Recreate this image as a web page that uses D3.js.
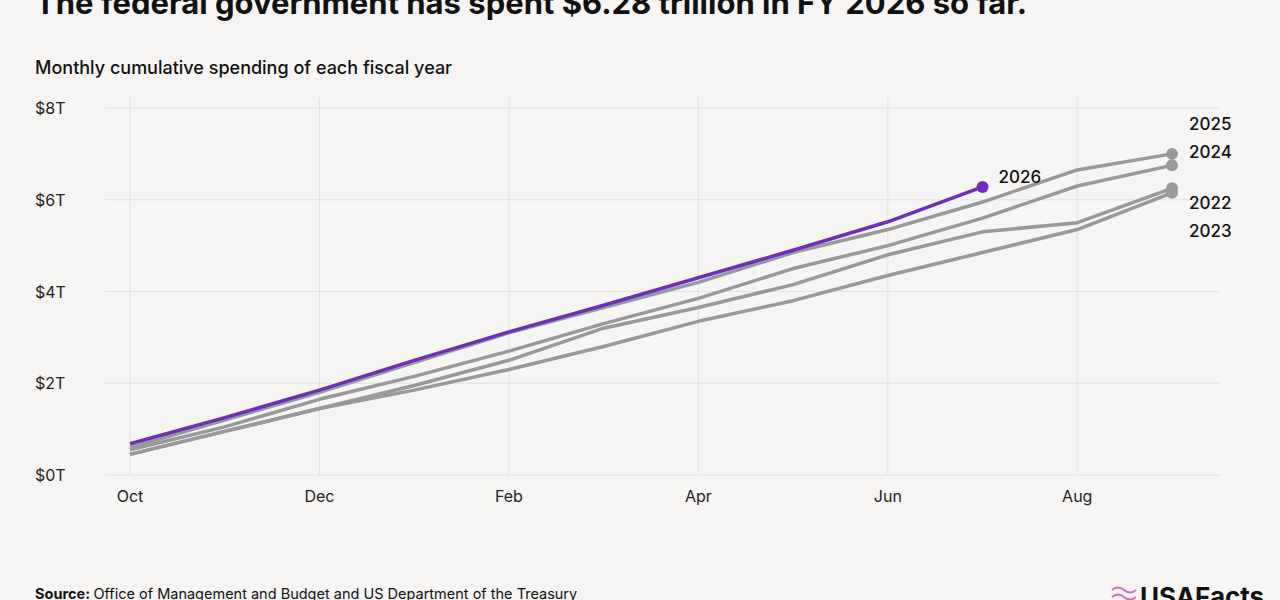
<!DOCTYPE html>
<html>
<head>
<meta charset="UTF-8">
<script src="https://d3js.org/d3.v7.min.js"></script>
<style>
  body { margin:0; background:#f6f5f3; }
  text { font-family: Inter, "Noto Sans", sans-serif; }
</style>
</head>
<body>
<svg id="chart" width="1280" height="600"></svg>
<script>
// months of the fiscal year
var months = ["Oct","Nov","Dec","Jan","Feb","Mar","Apr","May","Jun","Jul","Aug","Sep"];
var tickMonths = ["Oct","Dec","Feb","Apr","Jun","Aug"];
var yTicks = [0, 2, 4, 6, 8];

// cumulative spending, trillions
var fy2022 = [0.45,0.95,1.45,1.95,2.5,3.2,3.65,4.15,4.8,5.3,5.5,6.25];
var fy2023 = [0.45,0.95,1.45,1.85,2.3,2.8,3.35,3.8,4.35,4.85,5.35,6.15];
var fy2024 = [0.55,1.05,1.65,2.15,2.7,3.3,3.85,4.5,5.0,5.6,6.3,6.75];
var fy2025 = [0.6,1.2,1.8,2.45,3.1,3.65,4.2,4.85,5.35,5.95,6.65,7.0];
var fy2026 = [0.68,1.25,1.85,2.5,3.12,3.7,4.3,4.9,5.52,6.28];

var svg = d3.select("#chart");

var x = d3.scalePoint().domain(months).range([130, 1172]);
var y = d3.scaleLinear().domain([0, 8]).range([475, 108]);

// titles
svg.append("text").attr("x", 35).attr("y", 14)
  .style("font-size", "31px").style("font-weight", 700).attr("fill", "#111")
  .text("The federal government has spent $6.28 trillion in FY 2026 so far.");
svg.append("text").attr("x", 35).attr("y", 74)
  .style("font-size", "18px").style("font-weight", 500).attr("fill", "#111")
  .text("Monthly cumulative spending of each fiscal year");

// grid
svg.append("g").selectAll("line").data(yTicks).enter().append("line")
  .attr("x1", 105).attr("x2", 1220)
  .attr("y1", function(d){ return y(d); }).attr("y2", function(d){ return y(d); })
  .attr("stroke", "#e4e2df").attr("stroke-width", 1);
svg.append("g").selectAll("line").data(tickMonths).enter().append("line")
  .attr("x1", function(d){ return x(d); }).attr("x2", function(d){ return x(d); })
  .attr("y1", 98).attr("y2", 475)
  .attr("stroke", "#e4e2df").attr("stroke-width", 1);

// axis labels
svg.append("g").selectAll("text").data(yTicks).enter().append("text")
  .attr("x", 35).attr("y", function(d){ return y(d) + 6; })
  .style("font-size", "16px").attr("fill", "#222")
  .text(function(d){ return "$" + d + "T"; });
svg.append("g").selectAll("text").data(tickMonths).enter().append("text")
  .attr("x", function(d){ return x(d); }).attr("y", 502)
  .attr("text-anchor", "middle")
  .style("font-size", "16px").attr("fill", "#222")
  .text(function(d){ return d; });

var line = d3.line()
  .x(function(d, i){ return x(months[i]); })
  .y(function(d){ return y(d); });

var series = [
  {name:"2023", v:fy2023, c:"#999999", ly:231},
  {name:"2022", v:fy2022, c:"#999999", ly:203},
  {name:"2024", v:fy2024, c:"#999999", ly:152},
  {name:"2025", v:fy2025, c:"#999999", ly:124},
  {name:"2026", v:fy2026, c:"#6f2dbd", ly:177}
];

series.forEach(function(s){
  svg.append("path").datum(s.v).attr("d", line)
    .attr("fill", "none").attr("stroke", s.c).attr("stroke-width", 3.5)
    .attr("stroke-linejoin", "round");
  var last = s.v.length - 1;
  svg.append("circle").attr("cx", x(months[last])).attr("cy", y(s.v[last]))
    .attr("r", 6).attr("fill", s.c);
  svg.append("text")
    .attr("x", x(months[last]) + (s.name === "2026" ? 16 : 17))
    .attr("y", s.ly + 6)
    .style("font-size", "17px").style("font-weight", 500).attr("fill", "#111")
    .text(s.name);
});

// footer
var src = svg.append("text").attr("x", 35).attr("y", 599)
  .style("font-size", "14.5px").attr("fill", "#111");
src.append("tspan").style("font-weight", 700).text("Source: ");
src.append("tspan").text("Office of Management and Budget and US Department of the Treasury");
svg.append("text").attr("x", 1140).attr("y", 606)
  .style("font-size", "26px").style("font-weight", 700).attr("fill", "#111")
  .text("USAFacts");
svg.append("path")
  .attr("d", "M1112,590 q6,-5 12,0 t12,0 M1112,597 q6,-5 12,0 t12,0")
  .attr("fill", "none").attr("stroke", "#d46ab8").attr("stroke-width", 2);
</script>
</body>
</html>
